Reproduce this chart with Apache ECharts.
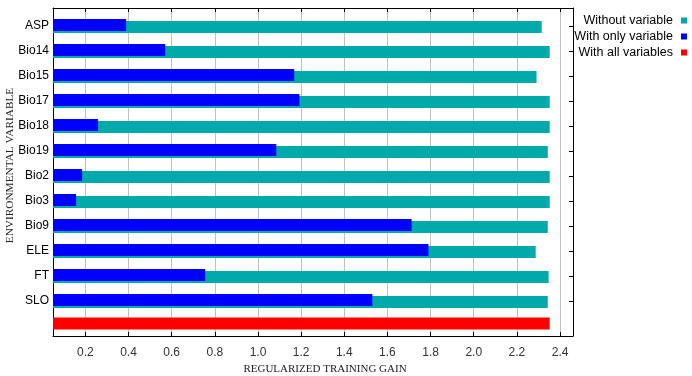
<!DOCTYPE html>
<html>
<head>
<meta charset="utf-8">
<script src="https://cdn.jsdelivr.net/npm/echarts@6/dist/echarts.min.js"></script>
<style>
  html, body { margin: 0; padding: 0; background: #fff; }
  #jackknife { width: 692px; height: 376px; }
</style>
</head>
<body>
<div id="jackknife"></div>
<script>
  // jackknife of regularized training gain
  var variables = ['ASP', 'Bio14', 'Bio15', 'Bio17', 'Bio18', 'Bio19', 'Bio2', 'Bio3', 'Bio9', 'ELE', 'FT', 'SLO']
  var withoutVariable = [2.315, 2.352, 2.291, 2.352, 2.352, 2.343, 2.352, 2.352, 2.343, 2.287, 2.347, 2.343]
  var withOnlyVariable = [0.389, 0.570, 1.168, 1.192, 0.259, 1.085, 0.185, 0.157, 1.712, 1.790, 0.755, 1.530]
  var withAllVariables = 2.352
  var xMin = 0.05
  var xMax = 2.46

  var allRows = variables.concat([''])
  var allData = variables.map(function () { return '-' }).concat([withAllVariables])

  var chart = echarts.init(document.getElementById('jackknife'))
  var axisBlack = { show: true, lineStyle: { color: '#000', width: 1 } }
  var font = 'Liberation Sans, Arial, sans-serif'
  var serif = 'Liberation Serif, Times New Roman, serif'

  chart.setOption({
    animation: false,
    textStyle: { fontFamily: font },
    legend: {
      orient: 'vertical',
      right: 5,
      top: 14,
      padding: 0,
      align: 'right',
      itemWidth: 6,
      itemHeight: 6,
      itemGap: 3,
      icon: 'rect',
      data: ['Without variable', 'With only variable', 'With all variables'],
      textStyle: { fontSize: 12.5, color: '#000', fontFamily: font, padding: [0, 3, 0, 0] }
    },
    grid: [
      { left: 53, top: 8, width: 520, height: 328, containLabel: false, outerBoundsMode: 'none' },
      { left: 53, top: 13.5, width: 520, height: 300, containLabel: false, outerBoundsMode: 'none' }
    ],
    xAxis: [
      {
        gridIndex: 0,
        type: 'value',
        position: 'bottom',
        min: xMin,
        max: xMax,
        splitNumber: 12,
        axisLine: axisBlack,
        axisTick: { show: true, inside: true, length: 4, lineStyle: { color: '#000' } },
        axisLabel: {
          showMinLabel: false,
          showMaxLabel: false,
          color: '#333',
          fontSize: 12,
          margin: 11,
          formatter: function (v) { return v.toFixed(1) }
        },
        splitLine: { show: true, lineStyle: { color: '#c0c0c0', width: 1 } },
        name: 'REGULARIZED TRAINING GAIN',
        nameLocation: 'middle',
        nameGap: 26,
        nameTextStyle: { fontFamily: serif, fontSize: 11, color: '#222', padding: [0, 0, 0, 24] }
      },
      {
        gridIndex: 0,
        type: 'value',
        position: 'top',
        min: xMin,
        max: xMax,
        splitNumber: 12,
        axisLine: axisBlack,
        axisTick: { show: true, inside: true, length: 4, lineStyle: { color: '#000' } },
        axisLabel: { show: false },
        splitLine: { show: false }
      },
      {
        gridIndex: 1,
        type: 'value',
        min: xMin,
        max: xMax,
        show: false
      }
    ],
    yAxis: [
      {
        gridIndex: 0,
        type: 'category',
        inverse: true,
        data: allRows,
        position: 'left',
        axisLine: axisBlack,
        axisTick: { show: false },
        axisLabel: { show: false },
        name: 'ENVIRONMENTAL VARIABLE',
        nameLocation: 'middle',
        nameGap: 37,
        nameRotate: 90,
        nameTextStyle: { fontFamily: serif, fontSize: 11.3, color: '#222', padding: [0, 0, 0, 13] }
      },
      {
        gridIndex: 0,
        type: 'value',
        position: 'right',
        axisLine: axisBlack,
        axisTick: { show: false },
        axisLabel: { show: false },
        splitLine: { show: false }
      },
      {
        gridIndex: 1,
        type: 'category',
        inverse: true,
        data: variables,
        position: 'left',
        axisLine: { show: false },
        axisTick: { show: false },
        axisLabel: { color: '#000', fontSize: 12, margin: 4 }
      },
      {
        gridIndex: 1,
        type: 'category',
        inverse: true,
        data: variables,
        position: 'right',
        axisLine: { show: false },
        axisTick: { show: true, inside: true, alignWithLabel: true, length: 4, lineStyle: { color: '#000' } },
        axisLabel: { show: false }
      }
    ],
    series: [
      {
        name: 'With only variable',
        type: 'bar',
        xAxisIndex: 2,
        yAxisIndex: 2,
        barWidth: 12,
        barGap: '-83.33%',
        z: 3,
        itemStyle: { color: '#0000ff' },
        data: withOnlyVariable
      },
      {
        name: 'Without variable',
        type: 'bar',
        xAxisIndex: 2,
        yAxisIndex: 2,
        barWidth: 12,
        barGap: '-83.33%',
        z: 2,
        itemStyle: { color: '#00aaaa' },
        data: withoutVariable
      },
      {
        name: 'With all variables',
        type: 'bar',
        xAxisIndex: 0,
        yAxisIndex: 0,
        barWidth: 12,
        itemStyle: { color: '#ff0000' },
        data: allData
      }
    ]
  })
</script>
</body>
</html>
